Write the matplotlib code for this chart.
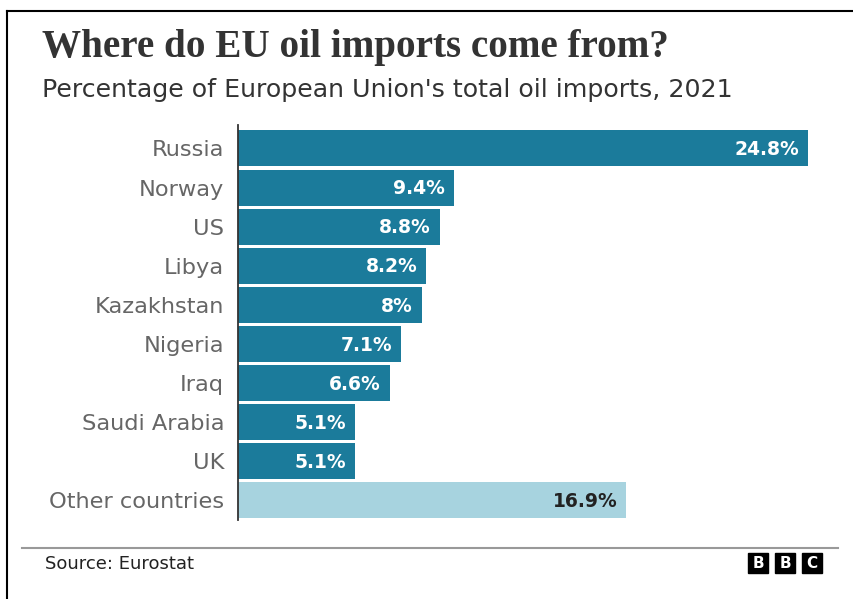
import matplotlib.pyplot as plt
from matplotlib.lines import Line2D
from matplotlib.patches import Rectangle

countries = ["Russia", "Norway", "US", "Libya", "Kazakhstan", "Nigeria",
             "Iraq", "Saudi Arabia", "UK", "Other countries"]
shares = [24.8, 9.4, 8.8, 8.2, 8.0, 7.1, 6.6, 5.1, 5.1, 16.9]
labels = ["24.8%", "9.4%", "8.8%", "8.2%", "8%", "7.1%", "6.6%", "5.1%", "5.1%", "16.9%"]

dark = "#1b7b9b"
light = "#a7d3df"
colors = [dark] * 9 + [light]

W, H = 854, 599
fig = plt.figure(figsize=(W / 100, H / 100), dpi=100)
fig.patch.set_facecolor("white")

ax = fig.add_axes([238 / W, 1 - 520 / H, (808 - 238) / W, 395 / H])
ypos = list(range(len(countries)))
ax.barh(ypos, shares, height=0.92, color=colors)
ax.set_xlim(0, 24.8)
ax.set_ylim(9.5, -0.6)

for y, v, lab, c in zip(ypos, shares, labels, colors):
    ax.text(v - 0.4, y + 0.03, lab, ha="right", va="center", fontsize=13.5,
            fontweight="bold", color="white" if c == dark else "#222222")

ax.set_yticks(ypos)
ax.set_yticklabels(countries, fontsize=16.2, color="#666666")
ax.tick_params(axis="y", length=0, pad=10)
ax.set_xticks([])
for s in ["top", "right", "bottom"]:
    ax.spines[s].set_visible(False)
ax.spines["left"].set_color("#333333")
ax.spines["left"].set_linewidth(1.3)

fig.text(42 / W, 1 - 47 / H, "Where do EU oil imports come from?", fontsize=28.2,
         family="Liberation Serif", fontweight="bold", color="#333333", va="center")
fig.text(42 / W, 1 - 90 / H, "Percentage of European Union's total oil imports, 2021",
         fontsize=18.2, color="#333333", va="center")

# footer rule and source
fig.add_artist(Line2D([22 / W, 838 / W], [1 - 548 / H, 1 - 548 / H], color="#999999", lw=1.5))
fig.text(45 / W, 1 - 564 / H, "Source: Eurostat", fontsize=13, color="#222222", va="center")

# BBC blocks
for i, letter in enumerate("BBC"):
    x0 = 748 + i * 27
    fig.add_artist(Rectangle((x0 / W, 1 - 573 / H), 20 / W, 20 / H, color="black"))
    fig.text((x0 + 10) / W, 1 - 563 / H, letter, fontsize=11, fontweight="bold",
             color="white", ha="center", va="center")

# frame lines at top and left
fig.add_artist(Line2D([7 / W, 1], [1 - 11 / H, 1 - 11 / H], color="black", lw=1.5))
fig.add_artist(Line2D([7 / W, 7 / W], [0, 1 - 11 / H], color="black", lw=1.5))

fig.savefig("out.png", dpi=100)
